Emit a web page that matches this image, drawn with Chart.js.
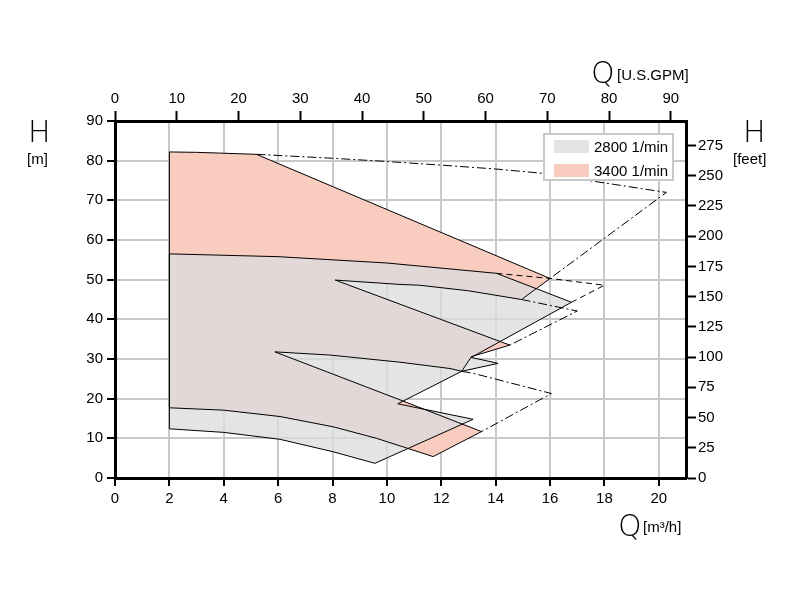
<!DOCTYPE html>
<html>
<head>
<meta charset="utf-8">
<script src="https://cdn.jsdelivr.net/npm/chart.js@4.4.0/dist/chart.umd.min.js"></script>
<style>
  body { margin: 0; background: #fff; }
  #wrap { position: relative; width: 800px; height: 600px; font-family: "Liberation Sans", Arial, sans-serif; }
  canvas { position: absolute; left: 0; top: 0; }
  .big { position: absolute; font-family: "DejaVu Sans", sans-serif; font-weight: 200; font-size: 30px; line-height: 30px; color: #000; }
  .unit { position: absolute; font-size: 15px; line-height: 16px; color: #000; }
  #legend { position: absolute; left: 543px; top: 133px; width: 127px; height: 44px; border: 2px solid #c8c8c8; background: #fff; }
  .row { position: absolute; left: 9px; font-size: 15px; line-height: 16px; }
  .sw { display: inline-block; width: 35px; height: 13px; vertical-align: -1px; margin-right: 5px; }
</style>
</head>
<body>
<div id="wrap">
  <canvas id="pump" width="800" height="600"></canvas>
  <div class="big" style="left:28px;top:117px">H</div>
  <div class="unit" style="left:27px;top:151px">[m]</div>
  <div class="big" style="left:743px;top:117px">H</div>
  <div class="unit" style="left:733px;top:151px">[feet]</div>
  <div class="big" style="left:591px;top:58px">Q</div>
  <div class="unit" style="left:617px;top:67px">[U.S.GPM]</div>
  <div class="big" style="left:618px;top:511px">Q</div>
  <div class="unit" style="left:643px;top:519px">[m³/h]</div>
  <div id="legend">
    <div class="row" style="top:4px"><span class="sw" style="background:#e4e4e5"></span>2800 1/min</div>
    <div class="row" style="top:28px"><span class="sw" style="background:#f9ccc0"></span>3400 1/min</div>
  </div>
</div>
<script>
// --- Axis ticks ---
const xTicks = [0, 2, 4, 6, 8, 10, 12, 14, 16, 18, 20];       // m3/h
const gpmTicks = [0, 10, 20, 30, 40, 50, 60, 70, 80, 90];      // U.S. GPM
const yTicks = [0, 10, 20, 30, 40, 50, 60, 70, 80, 90];        // m
const feetTicks = [0, 25, 50, 75, 100, 125, 150, 175, 200, 225, 250, 275];

// --- 3400 1/min working area (outline, Q m3/h / H m) ---
const area3400Q = [2, 3, 5.2, 16.0, 14.95, 13.0, 11.2, 10.48, 8.1, 14.52, 13.11, 12.75, 12.32, 10.48, 7.9, 5.88, 10.48, 13.48, 11.7, 10.48, 9.62, 8.03, 6.07, 4, 2, 2];
const area3400H = [82.2, 82.1, 81.6, 50.3, 45.0, 47.2, 48.6, 48.8, 49.9, 33.5, 30.6, 26.9, 27.6, 29.2, 31.0, 31.8, 19.7, 11.7, 5.4, 8.1, 10.0, 12.9, 15.5, 17.1, 17.7, 82.2];

// --- 2800 1/min working area ---
const area2800Q = [2, 6, 10, 14.03, 16.79, 13.1, 14.09, 12.75, 10.4, 13.17, 9.56, 8.03, 6.07, 4, 2, 2];
const area2800H = [56.5, 55.8, 54.2, 51.6, 44.3, 30.4, 28.9, 26.9, 18.7, 14.8, 3.7, 6.6, 9.75, 11.5, 12.4, 56.5];

// --- extended ranges (dashed) ---
const ext3400TopQ = [5.2, 8, 9.74, 11.95, 14, 15.75, 17.7, 20.28, 16.0];
const ext3400TopH = [81.6, 80.6, 79.9, 78.9, 77.9, 76.8, 74.7, 72.0, 50.3];
const ext2800TopQ = [14.03, 16, 18, 16.79];
const ext2800TopH = [51.6, 50.3, 48.6, 44.3];
const ext3400MidQ = [14.95, 17.0, 14.52];
const ext3400MidH = [45.0, 42.1, 33.5];
const ext3400LowQ = [12.75, 13.17, 16.05, 13.48];
const ext3400LowH = [26.9, 26.4, 21.3, 11.7];

const pts = (qs, hs) => qs.map((q, i) => ({ x: q, y: hs[i] }));

function areaFill(qs, hs, color, order) {
  return {
    data: pts(qs, hs), showLine: true, fill: 'shape', backgroundColor: color,
    borderWidth: 0, pointRadius: 0, order, xAxisID: 'x', yAxisID: 'y'
  };
}
function outline(qs, hs, dash) {
  return {
    data: pts(qs, hs), showLine: true, fill: false, borderColor: '#000',
    borderWidth: 1, borderDash: dash || [], pointRadius: 0, order: 0,
    xAxisID: 'x', yAxisID: 'y'
  };
}

const dashDot = [9, 3, 2, 3];
const dashed = [6, 4];

const tickFont = { family: '"Liberation Sans", Arial, sans-serif', size: 15 };
const gridStyle = { color: '#c8c8c8', lineWidth: 2, tickColor: '#000', tickWidth: 2, tickLength: 8 };
const edge = { color: '#000', width: 3 };
const setTicks = list => scale => { scale.ticks = list.map(v => ({ value: v })); };

new Chart(document.getElementById('pump').getContext('2d'), {
  type: 'scatter',
  data: {
    datasets: [
      areaFill(area3400Q, area3400H, '#f9ccc0', 3),
      areaFill(area2800Q, area2800H, 'rgba(220,220,223,0.77)', 2),
      outline(area3400Q, area3400H),
      outline(area2800Q, area2800H),
      outline(ext3400TopQ, ext3400TopH, dashDot),
      outline(ext2800TopQ, ext2800TopH, dashed),
      outline(ext3400MidQ, ext3400MidH, dashDot),
      outline(ext3400LowQ, ext3400LowH, dashDot),
    ]
  },
  options: {
    responsive: false,
    animation: false,
    layout: { padding: 0 },
    plugins: { legend: { display: false }, tooltip: { enabled: false } },
    scales: {
      x: {
        type: 'linear', position: 'bottom', min: 0, max: 21,
        afterBuildTicks: setTicks(xTicks),
        afterFit: s => { s.height = 122; },
        grid: gridStyle, border: edge,
        ticks: { color: '#000', font: tickFont, padding: 4, maxRotation: 0 }
      },
      x2: {
        type: 'linear', position: 'top', min: 0, max: 21 * 4.4029,
        afterBuildTicks: setTicks(gpmTicks),
        afterFit: s => { s.height = 121; },
        grid: { drawOnChartArea: false, tickColor: '#000', tickWidth: 2, tickLength: 10 },
        border: edge,
        ticks: { color: '#000', font: tickFont, padding: 3, maxRotation: 0 }
      },
      y: {
        type: 'linear', position: 'left', min: 0, max: 90,
        afterBuildTicks: setTicks(yTicks),
        afterFit: s => { s.width = 115; },
        grid: gridStyle, border: edge,
        ticks: { color: '#000', font: tickFont, padding: 4 }
      },
      y2: {
        type: 'linear', position: 'right', min: 0, max: 90 * 3.28084,
        afterBuildTicks: setTicks(feetTicks),
        afterFit: s => { s.width = 114; },
        grid: { drawOnChartArea: false, tickColor: '#000', tickWidth: 2, tickLength: 10 },
        border: edge,
        ticks: { color: '#000', font: tickFont, padding: 2 }
      }
    }
  }
});
</script>
</body>
</html>
